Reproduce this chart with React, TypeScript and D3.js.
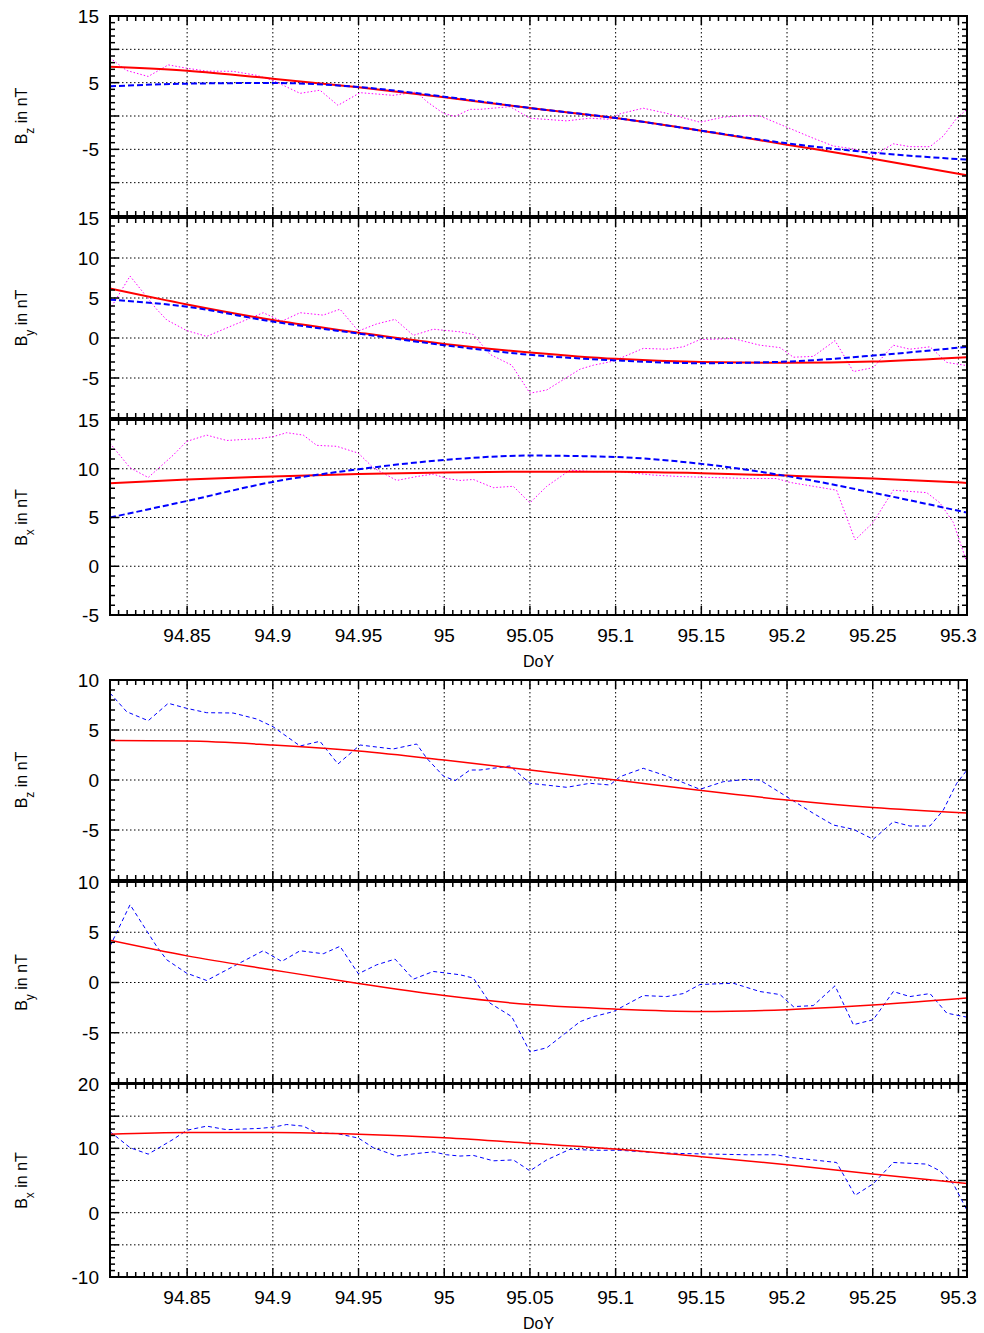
import React from 'react';
import * as d3 from 'd3';

const WIDTH = 984;
const HEIGHT = 1333;
const X_LEFT = 110;
const X_RIGHT = 967;

const doyDomain: [number, number] = [94.805, 95.305];

// observed field (nT), [DoY, value] at the vertices of the plotted trace
const bzObs: [number, number][] = [
  [94.805, 8.7], [94.8147, 6.83], [94.8273, 5.93], [94.839, 7.67], [94.8497, 7.17],
  [94.8614, 6.73], [94.8768, 6.7], [94.8906, 6.1], [94.9001, 5.33], [94.9159, 3.4],
  [94.9275, 3.87], [94.938, 1.6], [94.9509, 3.5], [94.9701, 3.1], [94.9839, 3.6],
  [94.9898, 2.17], [94.9995, 0.4], [95.0063, -0.07], [95.015, 1.0], [95.0209, 1.0],
  [95.0384, 1.4], [95.05, -0.33], [95.0714, -0.73], [95.085, -0.33], [95.0967, -0.5],
  [95.1025, 0.33], [95.1161, 1.17], [95.1298, 0.4], [95.1492, -0.93], [95.1628, -0.17],
  [95.1765, 0.07], [95.1842, 0.0], [95.1998, -1.67], [95.2153, -3.33], [95.227, -4.5],
  [95.2387, -4.93], [95.2503, -5.93], [95.262, -4.17], [95.2717, -4.6], [95.2834, -4.6],
  [95.2912, -3.0], [95.299, -0.33], [95.305, 1.0],
];

const byObs: [number, number][] = [
  [94.805, 3.6], [94.8167, 7.74], [94.8322, 3.6], [94.8381, 2.26], [94.8497, 0.93],
  [94.8614, 0.2], [94.8769, 1.6], [94.8944, 3.16], [94.9052, 2.1], [94.9159, 3.16],
  [94.9294, 2.86], [94.9392, 3.6], [94.9499, 0.87], [94.9606, 1.76], [94.9713, 2.33],
  [94.982, 0.33], [94.9936, 1.1], [95.0092, 0.77], [95.017, 0.44], [95.0267, -2.05],
  [95.0394, -3.4], [95.05, -6.9], [95.0598, -6.5], [95.0792, -3.9], [95.087, -3.4],
  [95.0986, -2.9], [95.1161, -1.3], [95.1298, -1.4], [95.1395, -1.1], [95.1492, -0.2],
  [95.1686, -0.07], [95.1842, -0.9], [95.1959, -1.2], [95.2037, -2.4], [95.2153, -2.3],
  [95.228, -0.33], [95.2387, -4.2], [95.2503, -3.7], [95.262, -0.9], [95.2717, -1.4],
  [95.2834, -1.1], [95.2932, -3.05], [95.305, -3.45],
];

const bxObs: [number, number][] = [
  [94.805, 12.6], [94.8167, 10.1], [94.8273, 9.1], [94.8419, 11.4], [94.8497, 12.8],
  [94.8614, 13.45], [94.8731, 12.9], [94.8925, 13.1], [94.9003, 13.3], [94.9081, 13.7],
  [94.9178, 13.45], [94.9256, 12.4], [94.9373, 12.3], [94.9499, 11.6], [94.9586, 10.1],
  [94.9723, 8.8], [94.9839, 9.2], [94.9936, 9.45], [95.0014, 9.0], [95.0092, 8.8],
  [95.017, 8.9], [95.0286, 8.06], [95.0403, 8.2], [95.05, 6.5], [95.0598, 8.2],
  [95.0734, 9.86], [95.087, 9.7], [95.1025, 9.7], [95.122, 9.35], [95.1376, 9.2],
  [95.1572, 9.1], [95.1765, 9.0], [95.1939, 9.0], [95.2017, 8.6], [95.2153, 8.2],
  [95.2289, 7.8], [95.2397, 2.7], [95.2503, 4.5], [95.262, 7.8], [95.2815, 7.55],
  [95.2892, 6.5], [95.297, 4.5], [95.305, 0.35],
];

// model curves, sampled at these DoY values
const fitDoy = [94.805, 94.85, 94.9, 94.95, 95.0, 95.05, 95.1, 95.15, 95.2, 95.25, 95.305];

// upper group: two models against the data
const bzFitRed = [7.4, 6.8, 5.6, 4.3, 2.8, 1.2, -0.3, -2.2, -4.3, -6.4, -8.9];
const bzFitBlue = [4.45, 4.85, 4.95, 4.35, 2.9, 1.2, -0.3, -2.2, -4.1, -5.5, -6.55];
const byFitRed = [6.2, 4.2, 2.25, 0.67, -0.75, -1.8, -2.6, -3.0, -3.1, -2.95, -2.4];
const byFitBlue = [4.8, 3.9, 2.05, 0.55, -0.9, -2.1, -2.8, -3.15, -2.95, -2.2, -1.1];
const bxFitRed = [8.5, 8.9, 9.2, 9.45, 9.62, 9.7, 9.7, 9.55, 9.3, 9.0, 8.55];
const bxFitBlue = [5.0, 6.7, 8.65, 9.95, 10.9, 11.35, 11.2, 10.5, 9.25, 7.55, 5.5];

// lower group: one model
const bzFit = [3.95, 3.9, 3.5, 2.9, 2.0, 1.0, 0.0, -1.05, -2.0, -2.75, -3.3];
const byFit = [4.2, 2.65, 1.25, -0.1, -1.3, -2.2, -2.65, -2.88, -2.7, -2.25, -1.55];
const bxFit = [12.2, 12.45, 12.45, 12.2, 11.65, 10.8, 9.9, 8.7, 7.45, 6.0, 4.55];

// tick labels shown on each panel's y axis
const bzTopLabels = [15, 5, -5];
const byTopLabels = [15, 10, 5, 0, -5];
const bxTopLabels = [15, 10, 5, 0, -5];
const bzBotLabels = [10, 5, 0, -5];
const byBotLabels = [10, 5, 0, -5];
const bxBotLabels = [20, 10, 0, -10];

const pairs = (vals: number[]): [number, number][] => vals.map((v, i) => [fitDoy[i], v]);

type Series = { data: [number, number][]; color: string; width: number; dash?: string; smooth?: boolean };

const obsStyle = { color: '#ff00ff', width: 1, dash: '1.5,2' };
const blueTop = { color: '#0000ff', width: 2, dash: '6,3', smooth: true };
const redTop = { color: '#ff0000', width: 2, smooth: true };
const obsBot = { color: '#0000ff', width: 1, dash: '4,3' };
const redBot = { color: '#ff0000', width: 1.5, smooth: true };

const panels = [
  { top: 16, bottom: 216, yDomain: [-15, 15], labels: bzTopLabels, comp: 'z', xAxis: false,
    series: [{ data: bzObs, ...obsStyle }, { data: pairs(bzFitRed), ...redTop }, { data: pairs(bzFitBlue), ...blueTop }] },
  { top: 218, bottom: 418, yDomain: [-10, 15], labels: byTopLabels, comp: 'y', xAxis: false,
    series: [{ data: byObs, ...obsStyle }, { data: pairs(byFitRed), ...redTop }, { data: pairs(byFitBlue), ...blueTop }] },
  { top: 420, bottom: 615, yDomain: [-5, 15], labels: bxTopLabels, comp: 'x', xAxis: true,
    series: [{ data: bxObs, ...obsStyle }, { data: pairs(bxFitRed), ...redTop }, { data: pairs(bxFitBlue), ...blueTop }] },
  { top: 680, bottom: 880, yDomain: [-10, 10], labels: bzBotLabels, comp: 'z', xAxis: false,
    series: [{ data: bzObs, ...obsBot }, { data: pairs(bzFit), ...redBot }] },
  { top: 882, bottom: 1083, yDomain: [-10, 10], labels: byBotLabels, comp: 'y', xAxis: false,
    series: [{ data: byObs, ...obsBot }, { data: pairs(byFit), ...redBot }] },
  { top: 1084, bottom: 1277, yDomain: [-10, 20], labels: bxBotLabels, comp: 'x', xAxis: true,
    series: [{ data: bxObs, ...obsBot }, { data: pairs(bxFit), ...redBot }] },
];

const FONT = '"Liberation Sans", Arial, Helvetica, sans-serif';
// plain hyphen for negatives, like the original plot
const fmt = (v: number) => String(+v.toFixed(3));

function Panel({ p, idx }: { p: any; idx: number }) {
  const x = d3.scaleLinear().domain(doyDomain).range([X_LEFT, X_RIGHT]);
  const y = d3.scaleLinear().domain(p.yDomain).range([p.bottom, p.top]);
  const majorX = x.ticks(10);
  const minorX = x.ticks(100);
  const majorY = d3.range(p.yDomain[0], p.yDomain[1] + 0.001, 5);
  const minorY = d3.range(p.yDomain[0], p.yDomain[1] + 0.001, 1);
  const clipId = `clip-${idx}`;
  const maj = 9;
  const min = 5;

  return (
    <g>
      <defs>
        <clipPath id={clipId}>
          <rect x={X_LEFT} y={p.top} width={X_RIGHT - X_LEFT} height={p.bottom - p.top} />
        </clipPath>
      </defs>

      {/* grid */}
      <g stroke="#000" strokeWidth={1} strokeDasharray="1.5,2.5">
        {majorX.map(t => (
          <line key={'gx' + t} x1={x(t)} x2={x(t)} y1={p.top} y2={p.bottom} />
        ))}
        {majorY.filter(v => v > p.yDomain[0] && v < p.yDomain[1]).map(v => (
          <line key={'gy' + v} x1={X_LEFT} x2={X_RIGHT} y1={y(v)} y2={y(v)} />
        ))}
      </g>

      {/* series */}
      <g clipPath={`url(#${clipId})`} fill="none">
        {p.series.map((s: Series, i: number) => {
          const gen = d3.line<[number, number]>()
            .x(d => x(d[0]))
            .y(d => y(d[1]))
            .curve(s.smooth ? d3.curveMonotoneX : d3.curveLinear);
          return (
            <path key={i} d={gen(s.data) || ''} stroke={s.color} strokeWidth={s.width}
              strokeDasharray={s.dash} strokeLinejoin="round" />
          );
        })}
      </g>

      {/* ticks */}
      <g stroke="#000" strokeWidth={1.5}>
        {minorX.map(t => {
          const len = majorX.some(m => Math.abs(m - t) < 1e-6) ? maj : min;
          return (
            <g key={'tx' + t}>
              <line x1={x(t)} x2={x(t)} y1={p.bottom} y2={p.bottom - len} />
              <line x1={x(t)} x2={x(t)} y1={p.top} y2={p.top + len} />
            </g>
          );
        })}
        {minorY.map(v => {
          const len = majorY.some(m => Math.abs(m - v) < 1e-6) ? maj : min;
          return (
            <g key={'ty' + v}>
              <line x1={X_LEFT} x2={X_LEFT + len} y1={y(v)} y2={y(v)} />
              <line x1={X_RIGHT} x2={X_RIGHT - len} y1={y(v)} y2={y(v)} />
            </g>
          );
        })}
      </g>

      {/* frame */}
      <rect x={X_LEFT} y={p.top} width={X_RIGHT - X_LEFT} height={p.bottom - p.top}
        fill="none" stroke="#000" strokeWidth={2} />

      {/* y tick labels */}
      <g fontFamily={FONT} fontSize={19} textAnchor="end" fill="#000">
        {p.labels.map((v: number) => (
          <text key={'ly' + v} x={99} y={y(v)} dy="0.36em">{fmt(v)}</text>
        ))}
      </g>

      {/* y title */}
      <text transform={`translate(27,${(p.top + p.bottom) / 2}) rotate(-90)`}
        textAnchor="middle" fontFamily={FONT} fontSize={16} fill="#000">
        B<tspan baselineShift="sub" fontSize={12}>{p.comp}</tspan> in nT
      </text>

      {p.xAxis && (
        <g fontFamily={FONT} fill="#000" textAnchor="middle">
          {majorX.map(t => (
            <text key={'lx' + t} x={x(t)} y={p.bottom + 27} fontSize={19}>{fmt(t)}</text>
          ))}
          <text x={(X_LEFT + X_RIGHT) / 2} y={p.bottom + 52} fontSize={16}>DoY</text>
        </g>
      )}
    </g>
  );
}

export default function App() {
  return (
    <svg width={WIDTH} height={HEIGHT} viewBox={`0 0 ${WIDTH} ${HEIGHT}`}
      style={{ position: 'absolute', left: 0, top: 0, display: 'block', background: '#fff' }}>
      <rect width={WIDTH} height={HEIGHT} fill="#fff" />
      {panels.map((p, i) => <Panel key={i} p={p} idx={i} />)}
    </svg>
  );
}
